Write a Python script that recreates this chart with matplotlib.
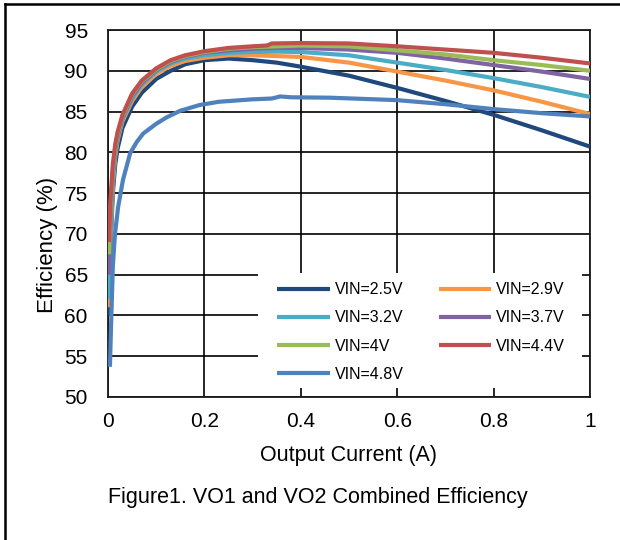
import matplotlib
matplotlib.use("Agg")
import matplotlib.pyplot as plt
from matplotlib.lines import Line2D
from matplotlib.patches import Rectangle

plt.rcParams['font.family'] = ['Liberation Sans', 'DejaVu Sans']

# ---- data ----
x_common = [0.002, 0.005, 0.01, 0.015, 0.02, 0.03, 0.05, 0.07, 0.1, 0.13, 0.16,
            0.2, 0.25, 0.3, 0.35, 0.4, 0.5, 0.6, 0.7, 0.8, 0.9, 1.0]

eff_25 = [60.0, 68.0, 75.0, 78.5, 80.5, 83.0, 85.6, 87.3, 89.0, 90.0, 90.8,
          91.3, 91.5, 91.3, 91.0, 90.5, 89.4, 87.9, 86.3, 84.6, 82.7, 80.7]
eff_29 = [61.0, 69.0, 76.0, 79.5, 81.5, 83.8, 86.3, 88.0, 89.6, 90.6, 91.2,
          91.6, 91.9, 91.9, 91.8, 91.7, 91.0, 89.9, 88.8, 87.6, 86.2, 84.7]
eff_32 = [62.0, 70.0, 76.5, 79.8, 81.7, 84.0, 86.6, 88.3, 89.9, 90.9, 91.5,
          91.9, 92.2, 92.3, 92.35, 92.3, 91.9, 91.0, 90.1, 89.1, 88.0, 86.8]
eff_37 = [65.0, 72.0, 77.5, 80.3, 82.0, 84.2, 86.9, 88.5, 90.1, 91.1, 91.7,
          92.2, 92.5, 92.7, 92.8, 92.8, 92.6, 92.2, 91.5, 90.7, 89.9, 89.0]
eff_40 = [67.5, 73.0, 78.0, 80.6, 82.3, 84.4, 87.1, 88.7, 90.2, 91.2, 91.8,
          92.3, 92.7, 92.9, 93.0, 93.1, 93.0, 92.5, 92.0, 91.3, 90.7, 90.0]

x_44 = [0.002, 0.005, 0.01, 0.015, 0.02, 0.03, 0.05, 0.07, 0.1, 0.13, 0.16,
        0.2, 0.25, 0.3, 0.33, 0.34, 0.4, 0.5, 0.6, 0.7, 0.8, 0.9, 1.0]
eff_44 = [69.0, 74.0, 78.5, 81.0, 82.5, 84.6, 87.2, 88.8, 90.3, 91.3, 91.9,
          92.4, 92.8, 93.0, 93.1, 93.35, 93.4, 93.35, 93.0, 92.6, 92.2, 91.6, 90.9]

x_48 = [0.004, 0.006, 0.008, 0.01, 0.0145, 0.021, 0.031, 0.046, 0.06, 0.073,
        0.1, 0.122, 0.15, 0.19, 0.23, 0.3, 0.34, 0.357, 0.38, 0.46, 0.6,
        0.7, 0.8, 0.9, 1.0]
eff_48 = [53.7, 58.0, 62.0, 66.0, 70.0, 73.3, 76.6, 79.9, 81.3, 82.3,
          83.5, 84.3, 85.1, 85.8, 86.2, 86.5, 86.6, 86.85, 86.75, 86.7, 86.4,
          85.9, 85.3, 84.8, 84.4]

labels = ['VIN=2.5V', 'VIN=2.9V', 'VIN=3.2V', 'VIN=3.7V', 'VIN=4V', 'VIN=4.4V', 'VIN=4.8V']
colors = ['#1F497D', '#F79646', '#4BACC6', '#8064A2', '#9BBB59', '#C0504D', '#4F81BD']

x_ticks = [0, 0.2, 0.4, 0.6, 0.8, 1.0]
x_ticklabels = ['0', '0.2', '0.4', '0.6', '0.8', '1']
y_ticks = [50, 55, 60, 65, 70, 75, 80, 85, 90, 95]

series = [(x_common, eff_25), (x_common, eff_29), (x_common, eff_32),
          (x_common, eff_37), (x_common, eff_40), (x_44, eff_44), (x_48, eff_48)]

# ---- figure ----
fig = plt.figure(figsize=(6.2, 5.4), dpi=100)
ax = fig.add_axes([108/620, 1-397/540, 482/620, 367/540])

handles = []
for (xs, ys), lab, col in zip(series, labels, colors):
    h, = ax.plot(xs, ys, color=col, lw=3.0, label=lab, zorder=3,
                 solid_capstyle='butt', solid_joinstyle='round')
    handles.append(h)

ax.set_xlim(0, 1)
ax.set_ylim(50, 95)
ax.set_xticks(x_ticks)
ax.set_xticklabels(x_ticklabels)
ax.set_yticks(y_ticks)
ax.grid(True, color='black', lw=1.2, zorder=0.5)
ax.set_axisbelow(True)
ax.tick_params(length=0, labelsize=15)
ax.tick_params(axis='y', pad=14.5)
ax.tick_params(axis='x', pad=11)
for s in ax.spines.values():
    s.set_color('#1a1a1a')
    s.set_linewidth(1.3)

ax.set_xlabel('Output Current (A)', fontsize=15.5, labelpad=10)
ax.set_ylabel('Efficiency (%)', fontsize=16)
ax.yaxis.set_label_coords((58.5-108)/482, (397-245)/367, transform=ax.transAxes)

# white legend background covering the grid
ax.add_patch(Rectangle((0.311, 0.0245), 0.672, 0.314, transform=ax.transAxes,
                       facecolor='white', edgecolor='none', zorder=1))

order = [0, 2, 4, 6, 1, 3, 5]
ax.legend([handles[i] for i in order], [labels[i] for i in order], ncol=2,
          loc='upper left', bbox_to_anchor=(0.351, 0.313), frameon=False,
          fontsize=11.5, handlelength=3.3, handletextpad=0.3,
          columnspacing=2.2, labelspacing=0.83, borderpad=0, borderaxespad=0)

fig.text(318/620, 1-497/540, 'Figure1. VO1 and VO2 Combined Efficiency',
         ha='center', va='center', fontsize=15.5)

# figure border (top and left visible)
fig.add_artist(Line2D([5/620, 5/620], [0, 1-4/540], transform=fig.transFigure,
                      color='black', lw=1.8))
fig.add_artist(Line2D([5/620, 1], [1-4/540, 1-4/540], transform=fig.transFigure,
                      color='black', lw=1.8))

fig.savefig('out.png', dpi=100)
